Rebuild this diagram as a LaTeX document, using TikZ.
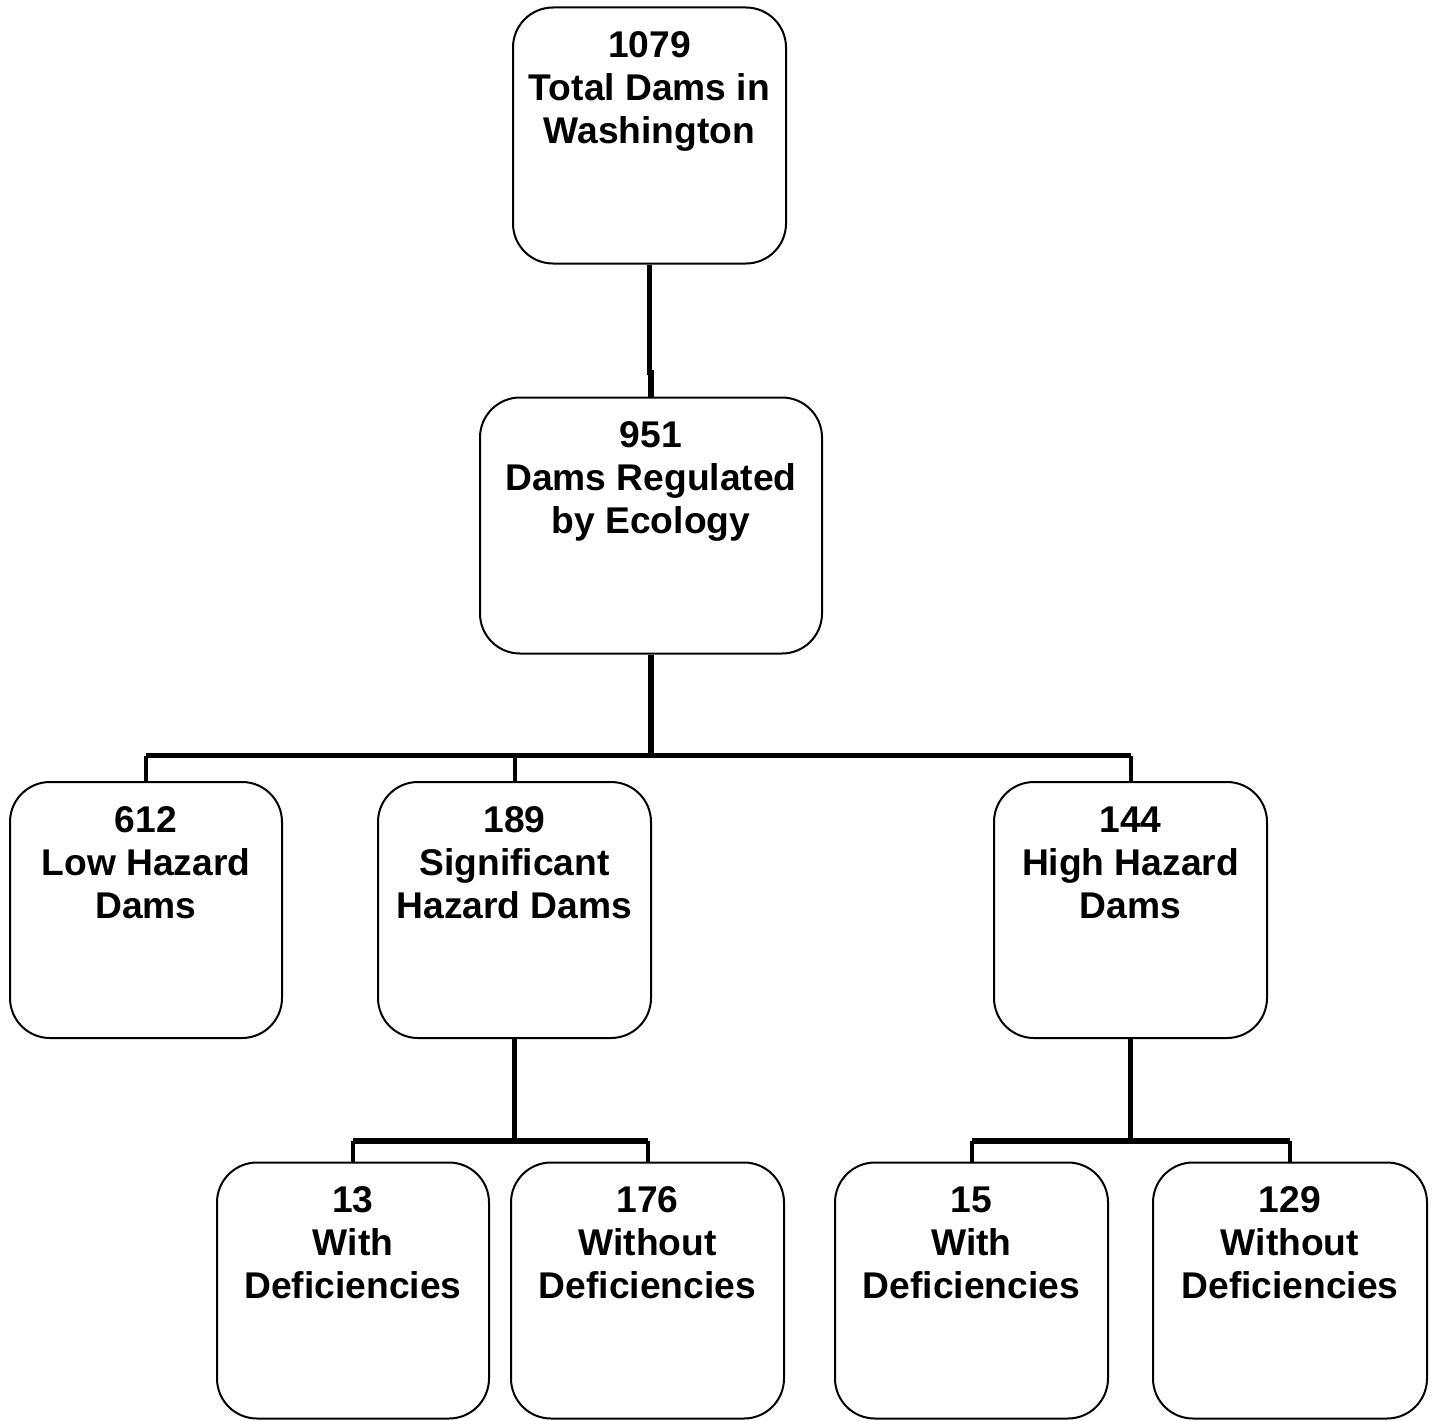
\documentclass[tikz,border=0pt]{standalone}
\usepackage{fontspec}
\setmainfont{Liberation Sans}
\usetikzlibrary{calc}
\tikzset{
  box/.style={draw=black, line width=1.5pt, rounded corners=30pt, minimum width=#1*0.75pt, minimum height=256*0.75pt, inner sep=0pt, fill=white},
  box/.default=273,
  txt/.style={anchor=north, inner sep=0pt, align=center, font=\fontsize{27.9pt}{32.25pt}\selectfont\bfseries},
  trunk/.style={line width=3.9pt, line join=miter},
  drop/.style={line width=3pt}
}
\newcommand{\fl}{\rule{0pt}{0.8em}}
\begin{document}
\begin{tikzpicture}[x=0.75pt,y=-0.75pt]
\useasboundingbox (0,0) rectangle (1434,1420);
\clip (0,0) rectangle (1434,1420);
% boxes
\node[box=273] (b1) at (649.5,135.5) {};
\node[box=342] (b2) at (651,525.5) {};
\node[box=272] (b3) at (146,910) {};
\node[box=273] (b4) at (514.5,910) {};
\node[box=273] (b5) at (1130.5,910) {};
\node[box=272] (c1) at (353,1290.5) {};
\node[box=273] (c2) at (647.5,1290.5) {};
\node[box=273] (c3) at (971.5,1290.5) {};
\node[box=274] (c4) at (1290,1290.5) {};
% texts
\node[txt] (t1) at ($(b1.north)+(0,21)$) {\fl 1079\\Total Dams in\\Washington};
\node[txt] (t2) at ($(b2.north)+(0,21)$) {\fl 951\\Dams Regulated\\by Ecology};
\node[txt] (t3) at ($(b3.north)+(0,21)$) {\fl 612\\Low Hazard\\Dams};
\node[txt] (t4) at ($(b4.north)+(0,21)$) {\fl 189\\Significant\\Hazard Dams};
\node[txt] (t5) at ($(b5.north)+(0,21)$) {\fl 144\\High Hazard\\Dams};
\node[txt] (u1) at ($(c1.north)+(0,21)$) {\fl 13\\With\\Deficiencies};
\node[txt] (u2) at ($(c2.north)+(0,21)$) {\fl 176\\Without\\Deficiencies};
\node[txt] (u3) at ($(c3.north)+(0,21)$) {\fl 15\\With\\Deficiencies};
\node[txt] (u4) at ($(c4.north)+(0,21)$) {\fl 129\\Without\\Deficiencies};
% connectors
\coordinate (j0) at ($(b1.south)+(0,108)$);
\coordinate (j1) at ($(b2.south)+(0,101)$);
\coordinate (j2) at ($(b4.south)+(0,102)$);
\coordinate (j3) at ($(b5.south)+(0,102)$);
\draw[trunk] (b1.south) -- (j0) -| (b2.north);
\draw[trunk] (b2.south) -- (j1);
\draw[trunk] (b3.north |- j1) -- (b5.north |- j1);
\draw[drop] (b3.north) -- (b3.north |- j1);
\draw[drop] (b4.north) -- (b4.north |- j1);
\draw[drop] (b5.north) -- (b5.north |- j1);
\draw[trunk] (b4.south) -- (j2);
\draw[trunk] (c1.north |- j2) -- (c2.north |- j2);
\draw[drop] (c1.north) -- (c1.north |- j2);
\draw[drop] (c2.north) -- (c2.north |- j2);
\draw[trunk] (b5.south) -- (j3);
\draw[trunk] (c3.north |- j3) -- (c4.north |- j3);
\draw[drop] (c3.north) -- (c3.north |- j3);
\draw[drop] (c4.north) -- (c4.north |- j3);
\end{tikzpicture}
\end{document}
